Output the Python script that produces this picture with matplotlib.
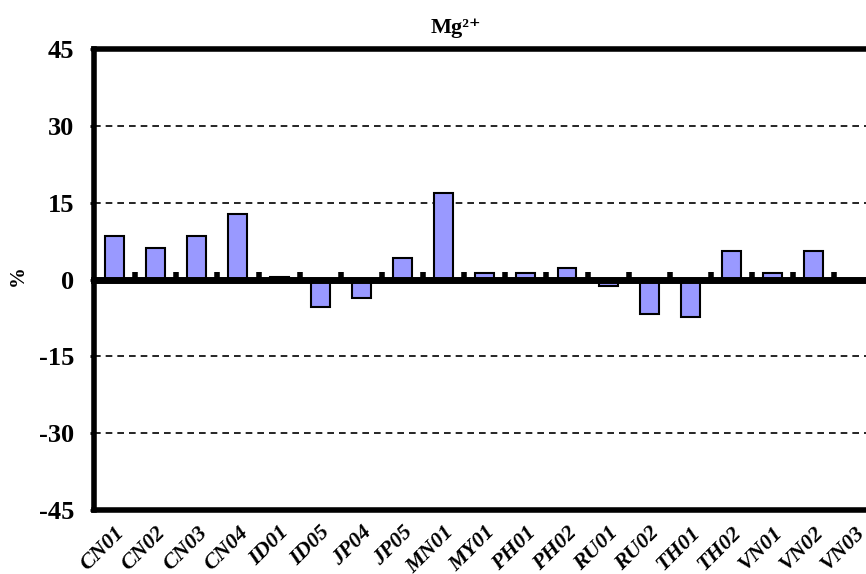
import numpy as np
import matplotlib
matplotlib.use('Agg')
import matplotlib.pyplot as plt

plt.rcParams['font.family'] = ['Liberation Serif', 'DejaVu Serif']
plt.rcParams['font.weight'] = 'bold'

# 站点
sites = ['CN01', 'CN02', 'CN03', 'CN04', 'ID01', 'ID05', 'JP04', 'JP05', 'MN01', 'MY01',
         'PH01', 'PH02', 'RU01', 'RU02', 'TH01', 'TH02', 'VN01', 'VN02', 'VN03']
# Mg2+ 偏差 (%)
values = [8.5, 6.2, 8.5, 12.8, 0.6, -5.3, -3.6, 4.2, 17.0, 1.4,
          1.4, 2.2, -1.3, -6.8, -7.2, 5.7, 1.4, 5.7, 0.0]
yticks = [-45, -30, -15, 0, 15, 30, 45]

fig = plt.figure(figsize=(8.66, 5.74), dpi=100)
ax = fig.add_axes([0.1085, 0.1115, 0.9025, 0.8025])

x = np.arange(len(sites))
ax.bar(x, values, width=0.46, color='#9999FF', edgecolor='black', linewidth=1.5, zorder=3)

ax.set_xlim(-0.5, len(sites) - 0.5)
ax.set_ylim(-45, 45)
ax.set_yticks(yticks)
ax.set_yticklabels([str(v) for v in yticks], fontsize=19, fontweight='bold')
ax.tick_params(axis='y', direction='out', length=3, width=2, pad=11)

# 虚线网格
for v in [-30, -15, 15, 30]:
    ax.axhline(v, color='black', linestyle=(0, (4, 3)), linewidth=1.2, zorder=1)

# 零线作为x轴，刻度在类别之间
ax.spines['bottom'].set_position(('data', 0))
ax.spines['bottom'].set_linewidth(5)
ax.spines['bottom'].set_zorder(4)
ax.set_xticks(x[:-1] + 0.5)
ax.set_xticklabels([])
ax.tick_params(axis='x', direction='in', length=6, width=4)

for s in ['left', 'top', 'right']:
    ax.spines[s].set_linewidth(4)

# 底部边框和站点标签
sec = ax.secondary_xaxis(0.0)
sec.spines['bottom'].set_linewidth(4)
sec.set_xticks(x)
sec.set_xticklabels(sites, rotation=45, ha='right', rotation_mode='anchor',
                    fontsize=16, fontweight='bold', fontstyle='italic')
sec.tick_params(axis='x', length=0, pad=9)

fig.text(0.021, 0.52, '%', rotation=90, ha='center', va='center', fontsize=15, fontweight='bold')
fig.text(0.527, 0.951, 'Mg²⁺', ha='center', va='center', fontsize=16, fontweight='bold')

fig.savefig('out.png', dpi=100)
